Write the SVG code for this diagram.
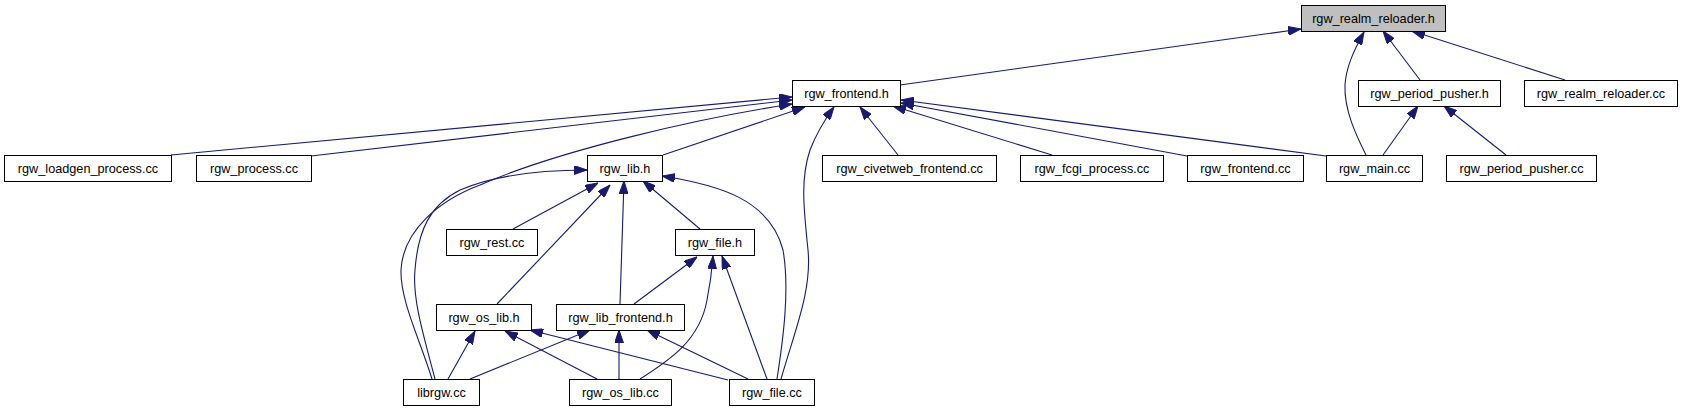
<svg xmlns="http://www.w3.org/2000/svg" width="1683" height="411" viewBox="0 0 1683 411">
<style>
.n rect{fill:#fff;stroke:#000;stroke-width:1}
.n text{font-family:"Liberation Sans",Arial,sans-serif;font-size:12.7px;fill:#000;text-anchor:middle}
#n0 rect{fill:#bfbfbf}
.e path{fill:none;stroke:#191970;stroke-width:1.1;marker-end:url(#ah)}
</style>
<defs>
<marker id="ah" markerUnits="userSpaceOnUse" viewBox="0 0 13 9" markerWidth="13" markerHeight="9" refX="13" refY="4.5" orient="auto">
<path d="M0,0 L13,4.5 L0,9 z" fill="#191970" stroke="#191970" stroke-width="1"/>
</marker>
</defs>
<rect width="1683" height="411" fill="#fff"/>
<g class="e">
<path d="M900,85 L1301,29"/>
<path d="M1366,155 C1356,135 1344,110 1345,85 C1346,68 1353,52 1364,32"/>
<path d="M1420,80 L1383,31"/>
<path d="M1565,80 L1412,31"/>
<path d="M1383,155 L1418,106"/>
<path d="M1506,155 L1444,106"/>
<path d="M171,155 L792,97"/>
<path d="M311,156 L792,100"/>
<path d="M432,379 C420,340 400,300 401,270 C403,230 440,200 480,185 C560,150 700,118 792,104"/>
<path d="M663,155 L805,107"/>
<path d="M781,379 C795,330 812,290 808,250 C804,210 800,180 810,150 C817,132 826,118 834,107"/>
<path d="M898,155 L860,107"/>
<path d="M1052,155 L893,106"/>
<path d="M1187,156 L901,103"/>
<path d="M1326,156 L901,100"/>
<path d="M435,379 C425,340 412,300 415,270 C418,230 430,205 460,190 C495,175 540,170 587,170"/>
<path d="M513,229 L598,183"/>
<path d="M497,304 L610,185"/>
<path d="M620,304 L624,181"/>
<path d="M700,229 L643,181"/>
<path d="M777,379 C783,340 790,290 783,250 C770,200 720,185 662,176"/>
<path d="M634,304 L697,257"/>
<path d="M640,379 C670,360 700,340 707,300 C711,280 712,270 713,256"/>
<path d="M767,379 L722,256"/>
<path d="M448,379 L475,331"/>
<path d="M597,379 L505,331"/>
<path d="M728,380 L530,330"/>
<path d="M470,379 L590,330"/>
<path d="M619,379 L619,330"/>
<path d="M748,379 L647,330"/>
</g>
<g id="n0" class="n"><rect x="1301.5" y="5.5" width="144" height="26"/><text x="1373.5" y="23">rgw_realm_reloader.h</text></g>
<g id="n1" class="n"><rect x="792.5" y="80.5" width="108" height="26"/><text x="846.5" y="98">rgw_frontend.h</text></g>
<g id="n2" class="n"><rect x="1358.5" y="80.5" width="142" height="26"/><text x="1429.5" y="98">rgw_period_pusher.h</text></g>
<g id="n3" class="n"><rect x="1524.5" y="80.5" width="153" height="26"/><text x="1601" y="98">rgw_realm_reloader.cc</text></g>
<g id="n4" class="n"><rect x="4.5" y="155.5" width="167" height="26"/><text x="88" y="173">rgw_loadgen_process.cc</text></g>
<g id="n5" class="n"><rect x="196.5" y="155.5" width="115" height="26"/><text x="254" y="173">rgw_process.cc</text></g>
<g id="n6" class="n"><rect x="587.5" y="155.5" width="75" height="26"/><text x="625" y="173">rgw_lib.h</text></g>
<g id="n7" class="n"><rect x="822.5" y="155.5" width="174" height="26"/><text x="909.5" y="173">rgw_civetweb_frontend.cc</text></g>
<g id="n8" class="n"><rect x="1020.5" y="155.5" width="143" height="26"/><text x="1092" y="173">rgw_fcgi_process.cc</text></g>
<g id="n9" class="n"><rect x="1187.5" y="155.5" width="116" height="26"/><text x="1245.5" y="173">rgw_frontend.cc</text></g>
<g id="n10" class="n"><rect x="1326.5" y="155.5" width="96" height="26"/><text x="1374.5" y="173">rgw_main.cc</text></g>
<g id="n11" class="n"><rect x="1446.5" y="155.5" width="150" height="26"/><text x="1521.5" y="173">rgw_period_pusher.cc</text></g>
<g id="n12" class="n"><rect x="446.5" y="229.5" width="91" height="26"/><text x="492" y="247">rgw_rest.cc</text></g>
<g id="n13" class="n"><rect x="675.5" y="229.5" width="79" height="26"/><text x="715" y="247">rgw_file.h</text></g>
<g id="n14" class="n"><rect x="436.5" y="304.5" width="95" height="26"/><text x="484" y="322">rgw_os_lib.h</text></g>
<g id="n15" class="n"><rect x="556.5" y="304.5" width="128" height="26"/><text x="620.5" y="322">rgw_lib_frontend.h</text></g>
<g id="n16" class="n"><rect x="403.5" y="379.5" width="76" height="26"/><text x="441.5" y="397">librgw.cc</text></g>
<g id="n17" class="n"><rect x="569.5" y="379.5" width="102" height="26"/><text x="620.5" y="397">rgw_os_lib.cc</text></g>
<g id="n18" class="n"><rect x="729.5" y="379.5" width="85" height="26"/><text x="772" y="397">rgw_file.cc</text></g>
</svg>
